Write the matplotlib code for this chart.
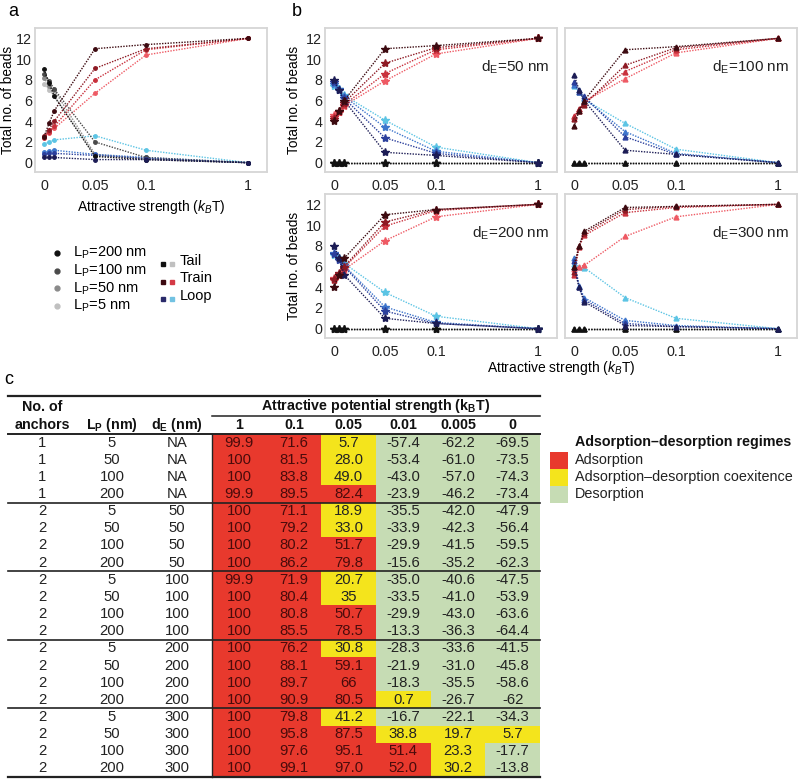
import numpy as np
import matplotlib
matplotlib.use("Agg")
import matplotlib.pyplot as plt
from matplotlib.colors import ListedColormap

plt.rcParams['font.family'] = ['Liberation Sans', 'DejaVu Sans']
plt.rcParams['mathtext.fontset'] = 'custom'
plt.rcParams['mathtext.rm'] = 'Liberation Sans'
plt.rcParams['mathtext.it'] = 'Liberation Sans:italic'
plt.rcParams['mathtext.bf'] = 'Liberation Sans:bold'

# x values (attractive strength, kBT)
strength = [0, 0.005, 0.01, 0.05, 0.1, 1]
lp_values = [200, 100, 50, 5]

# panel a, 1 anchor; rows = Lp 200, 100, 50, 5
a_tail = [[9.0, 7.7, 6.4, 0.6, 0.3, 0],
          [8.6, 7.9, 7.1, 2.0, 0.5, 0],
          [8.2, 7.4, 7.0, 0.8, 0.4, 0],
          [7.6, 7.0, 6.5, 0.7, 0.4, 0]]
a_train = [[2.5, 3.8, 5.0, 11.0, 11.4, 12],
           [2.6, 3.2, 4.0, 9.1, 11.0, 12],
           [2.4, 3.0, 3.5, 8.0, 10.9, 12],
           [2.5, 2.9, 3.3, 6.7, 10.4, 12]]
a_loop = [[0.5, 0.5, 0.5, 0.3, 0.3, 0],
          [0.8, 0.9, 0.9, 0.7, 0.4, 0],
          [1.0, 1.1, 1.2, 0.8, 0.5, 0],
          [1.8, 2.0, 2.2, 2.6, 1.2, 0]]

# panel b, 2 anchors
b_tail = [0, 0, 0, 0, 0, 0]
b50_train = [[4.0, 5.0, 6.0, 11.0, 11.3, 12],
             [4.2, 5.0, 5.8, 9.6, 11.1, 12],
             [4.4, 4.9, 5.6, 8.6, 10.9, 12],
             [4.6, 4.9, 5.5, 7.9, 10.5, 12]]
b50_loop = [[8.0, 7.0, 6.0, 1.0, 0.7, 0],
            [7.8, 7.0, 6.2, 2.4, 0.9, 0],
            [7.6, 7.1, 6.4, 3.4, 1.1, 0],
            [7.4, 7.1, 6.5, 4.1, 1.5, 0]]
b100_train = [[3.5, 5.0, 6.0, 10.9, 11.2, 12],
              [4.2, 5.2, 5.6, 9.4, 11.1, 12],
              [4.5, 5.0, 5.8, 8.8, 10.9, 12],
              [4.4, 5.2, 5.9, 8.1, 10.6, 12]]
b100_loop = [[8.5, 7.0, 6.0, 1.2, 0.8, 0],
             [7.8, 6.8, 6.4, 2.5, 0.8, 0],
             [7.5, 7.0, 6.2, 3.0, 0.9, 0],
             [7.4, 6.8, 6.1, 3.8, 1.3, 0]]
b200_train = [[4.0, 5.2, 6.8, 11.0, 11.5, 12],
              [4.8, 5.4, 6.0, 10.3, 11.5, 12],
              [4.7, 5.3, 5.9, 9.9, 11.4, 12],
              [4.9, 5.2, 5.7, 8.5, 10.8, 12]]
b200_loop = [[8.0, 6.8, 5.2, 1.0, 0.5, 0],
             [7.2, 6.6, 6.0, 1.7, 0.5, 0],
             [7.3, 6.7, 6.1, 2.1, 0.6, 0],
             [7.1, 6.8, 6.3, 3.5, 1.2, 0]]
b300_train = [[6.0, 8.0, 9.4, 11.7, 11.8, 12],
              [5.5, 8.0, 9.2, 11.5, 11.8, 12],
              [5.2, 7.9, 9.0, 11.2, 11.7, 12],
              [5.8, 6.0, 6.1, 8.9, 10.8, 12]]
b300_loop = [[6.0, 4.0, 2.6, 0.3, 0.2, 0],
             [6.5, 4.0, 2.8, 0.5, 0.2, 0],
             [6.8, 4.1, 3.0, 0.8, 0.3, 0],
             [6.2, 6.0, 5.9, 3.0, 1.0, 0]]

# panel c table
col_strength = ['1', '0.1', '0.05', '0.01', '0.005', '0']
anchors = ['1'] * 4 + ['2'] * 16
lp_col = ['5', '50', '100', '200'] * 5
de_col = ['NA'] * 4 + ['50'] * 4 + ['100'] * 4 + ['200'] * 4 + ['300'] * 4
table_vals = [
    ['99.9', '71.6', '5.7', '-57.4', '-62.2', '-69.5'],
    ['100', '81.5', '28.0', '-53.4', '-61.0', '-73.5'],
    ['100', '83.8', '49.0', '-43.0', '-57.0', '-74.3'],
    ['99.9', '89.5', '82.4', '-23.9', '-46.2', '-73.4'],
    ['100', '71.1', '18.9', '-35.5', '-42.0', '-47.9'],
    ['100', '79.2', '33.0', '-33.9', '-42.3', '-56.4'],
    ['100', '80.2', '51.7', '-29.9', '-41.5', '-59.5'],
    ['100', '86.2', '79.8', '-15.6', '-35.2', '-62.3'],
    ['99.9', '71.9', '20.7', '-35.0', '-40.6', '-47.5'],
    ['100', '80.4', '35', '-33.5', '-41.0', '-53.9'],
    ['100', '80.8', '50.7', '-29.9', '-43.0', '-63.6'],
    ['100', '85.5', '78.5', '-13.3', '-36.3', '-64.4'],
    ['100', '76.2', '30.8', '-28.3', '-33.6', '-41.5'],
    ['100', '88.1', '59.1', '-21.9', '-31.0', '-45.8'],
    ['100', '89.7', '66', '-18.3', '-35.5', '-58.6'],
    ['100', '90.9', '80.5', '0.7', '-26.7', '-62'],
    ['100', '79.8', '41.2', '-16.7', '-22.1', '-34.3'],
    ['100', '95.8', '87.5', '38.8', '19.7', '5.7'],
    ['100', '97.6', '95.1', '51.4', '23.3', '-17.7'],
    ['100', '99.1', '97.0', '52.0', '30.2', '-13.8'],
]
regime_names = ['Adsorption', 'Adsorption\u2013desorption coexitence', 'Desorption']

tail_colors = ['#111111', '#4a4a4a', '#8a8a8a', '#c0c0c0']
train_colors = ['#3c0a10', '#8e1a24', '#c8303c', '#ee5a64']
loop_colors = ['#1c1c55', '#2b3f9c', '#3d75cc', '#5cc4e4']
red, yellow, green = '#e8392d', '#f4e41c', '#c6dcb4'

W, H = 800, 780


def px_rect(l, t, r, b):
    return [l / W, 1 - b / H, (r - l) / W, (b - t) / H]


def fwd(v):
    v = np.asarray(v, dtype=float)
    return np.where(v <= 0.1, v, 0.1 + (v - 0.1) / 9)


def inv(u):
    u = np.asarray(u, dtype=float)
    return np.where(u <= 0.1, u, 0.1 + (u - 0.1) * 9)


def style(ax, left_labels=True):
    ax.set_xscale('function', functions=(fwd, inv))
    ax.set_xlim(-0.0088, 1.167)
    ax.set_ylim(-0.9, 13.0)
    ax.set_xticks([0, 0.05, 0.1, 1], ['0', '0.05', '0.1', '1'])
    ax.set_yticks(range(0, 13, 2))
    ax.tick_params(length=0, labelsize=10.3, pad=2, colors='#222222')
    ax.tick_params(axis='x', pad=5)
    ax.tick_params(labelleft=left_labels)
    for s in ax.spines.values():
        s.set_color('#d6d6d6')
        s.set_linewidth(1.3)


def draw(ax, tail, train, loop, marker, ms):
    for i in reversed(range(4)):
        for vals, cols in ((tail, tail_colors), (loop, loop_colors), (train, train_colors)):
            ax.plot(strength, vals[i], ls=(0, (1, 1)), lw=1, color=cols[i],
                    marker=marker, ms=ms, mec=cols[i], mfc=cols[i])


fig = plt.figure(figsize=(8, 7.8), dpi=100)

# overlay axes in pixel coordinates for labels, legend and table
ov = fig.add_axes([0, 0, 1, 1])
ov.axis('off')

# panel a
ax_a = fig.add_axes(px_rect(35, 28, 267, 172))
draw(ax_a, a_tail, a_train, a_loop, 'o', 2.5)
style(ax_a)
ax_a.set_ylabel('Total no. of beads', fontsize=9.8)
ax_a.yaxis.set_label_coords(-0.088, 0.5)

# panel b
b_sets = [(b50_train, b50_loop, '*', 6, '50', (325, 28, 557, 172), True),
          (b100_train, b100_loop, '^', 3.5, '100', (565, 28, 797, 172), False),
          (b200_train, b200_loop, '*', 6, '200', (325, 194, 557, 338), True),
          (b300_train, b300_loop, '^', 3.5, '300', (565, 194, 797, 338), False)]
for train, loop, mk, ms, de, r, lab in b_sets:
    ax = fig.add_axes(px_rect(*r))
    draw(ax, [b_tail] * 4, train, loop, mk, ms)
    style(ax, lab)
    if lab:
        ax.set_ylabel('Total no. of beads', fontsize=9.8)
        ax.yaxis.set_label_coords(-0.105, 0.5)
    ax.text(0.965, 0.73, 'd$_\\mathregular{E}$=' + de + ' nm', transform=ax.transAxes,
            ha='right', va='center', fontsize=11, color='#222222')

ov.text(151, 207, 'Attractive strength ($k_B$T)', ha='center', va='center', fontsize=10)
ov.text(561, 368, 'Attractive strength ($k_B$T)', ha='center', va='center', fontsize=10)
ov.text(8, 12, 'a', fontsize=13, va='center')
ov.text(292, 12, 'b', fontsize=13, va='center')
ov.text(4, 380, 'c', fontsize=13, va='center')

# legend of panel a
for i, lp in enumerate(lp_values):
    y = 253 + i * 17.7
    ov.plot(57, y, 'o', ms=3.5, color=tail_colors[i])
    ov.text(73, y, 'L$_\\mathregular{P}$=%d nm' % lp, va='center', fontsize=10.5)
pairs = [('Tail', tail_colors[0], tail_colors[3]),
         ('Train', train_colors[0], '#d43a46'),
         ('Loop', '#2a2a6a', '#72c2e2')]
for i, (name, c1, c2) in enumerate(pairs):
    y = 263 + i * 17.5
    ov.plot(163, y + 1, 's', ms=3.5, color=c1)
    ov.plot(172, y + 1, 's', ms=3.5, color=c2)
    ov.text(180, y - 2, name, va='center', fontsize=10.5)

# table
tv = np.array([[float(s) for s in row] for row in table_vals])
regime = np.digitize(tv, [0, 50])  # 0 desorption, 1 coexistence, 2 adsorption
top, x0, x1, xl = 434, 212, 540, 8
rh = (777 - top) / len(table_vals)
cw = (x1 - x0) / len(col_strength)
ov.imshow(regime, cmap=ListedColormap([green, yellow, red]), vmin=-0.5, vmax=2.5,
          extent=(x0, x1, 777, top), aspect='auto', interpolation='nearest', zorder=0)

hdr = dict(ha='center', va='center', fontsize=10.3, fontweight='bold', color='#111111')
ov.text(42, 407, 'No. of', **hdr)
ov.text(42, 425, 'anchors', **hdr)
ov.text(112, 425, 'L$_\\mathbf{P}$ (nm)', **hdr)
ov.text(177, 425, 'd$_\\mathbf{E}$ (nm)', **hdr)
ov.text(376, 406, 'Attractive potential strength (k$_\\mathbf{B}$T)', **hdr)
for j, s in enumerate(col_strength):
    ov.text(x0 + (j + 0.5) * cw, 425, s, **hdr)

ov.plot([xl, x1], [396, 396], color='#222222', lw=1.6)
ov.plot([x0, x1], [416, 416], color='#222222', lw=1.1)
ov.plot([xl, x1], [top, top], color='#222222', lw=1.4)
for k in range(4, len(table_vals), 4):
    ov.plot([xl, x1], [top + k * rh] * 2, color='#222222', lw=1.2)
ov.plot([xl, x1], [777, 777], color='#222222', lw=1.6)
ov.plot([x0, x0], [top, 777], color='#222222', lw=1.0)

cell = dict(ha='center', va='center', fontsize=10.7)
for i in range(len(table_vals)):
    y = top + (i + 0.5) * rh
    ov.text(42, y, anchors[i], color='#222222', **cell)
    ov.text(112, y, lp_col[i], color='#222222', **cell)
    ov.text(177, y, de_col[i], color='#222222', **cell)
    for j, s in enumerate(table_vals[i]):
        c = '#4a0b0b' if regime[i, j] == 2 else '#222222'
        ov.text(x0 + (j + 0.5) * cw, y, s, color=c, **cell)

# regime legend
ov.text(575, 442, 'Adsorption\u2013desorption regimes', fontsize=10.3, fontweight='bold',
        va='center', color='#111111')
for i, (name, c) in enumerate(zip(regime_names, [red, yellow, green])):
    y = 460 + i * 17
    ov.add_patch(plt.Rectangle((550, y - 8.5), 18, 17, color=c, lw=0))
    ov.text(575, y, name, fontsize=10.4, va='center', color='#222222')

ov.set_xlim(0, W)
ov.set_ylim(H, 0)

fig.savefig('out.png', dpi=100)
